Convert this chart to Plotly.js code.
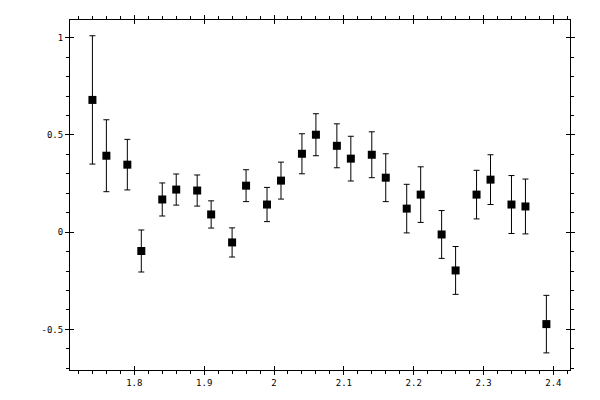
<!DOCTYPE html>
<html>
<head>
<meta charset="utf-8">
<script src="https://cdn.plot.ly/plotly-3.0.1.min.js"></script>
<style>
  body { margin: 0; background: #fff; }
  #grafico { width: 600px; height: 400px; }
</style>
</head>
<body>
<div id="grafico"></div>
<script>
// pontos medidos (x, valor, erro)
var xVals = [1.74, 1.76, 1.79, 1.81, 1.84, 1.86, 1.89, 1.91, 1.94, 1.96,
             1.99, 2.01, 2.04, 2.06, 2.09, 2.11, 2.14, 2.16, 2.19, 2.21,
             2.24, 2.26, 2.29, 2.31, 2.34, 2.36, 2.39];
var yVals = [0.68, 0.393, 0.347, -0.097, 0.168, 0.219, 0.214, 0.091, -0.053, 0.239,
             0.142, 0.265, 0.403, 0.501, 0.444, 0.378, 0.398, 0.280, 0.121, 0.193,
             -0.012, -0.197, 0.193, 0.270, 0.142, 0.132, -0.473];
var erros = [0.33, 0.185, 0.13, 0.108, 0.085, 0.08, 0.08, 0.07, 0.075, 0.082,
             0.088, 0.095, 0.103, 0.108, 0.113, 0.115, 0.118, 0.123, 0.125, 0.143,
             0.123, 0.123, 0.125, 0.128, 0.149, 0.141, 0.148];

var xTickVals = [1.8, 1.9, 2, 2.1, 2.2, 2.3, 2.4];
var xTickText = ['1.8', '1.9', '2', '2.1', '2.2', '2.3', '2.4'];
var yTickVals = [-0.5, 0, 0.5, 1];
var yTickText = ['-0.5', '0', '0.5', '1'];

var xRange = [1.7079, 2.4238];
var yRange = [-0.709, 1.091];
var fonte = {family: 'DejaVu Sans Mono', size: 9, color: '#000'};

var data = [{
  type: 'scatter',
  mode: 'markers',
  x: xVals,
  y: yVals,
  marker: {symbol: 'square', size: 8, color: '#000'},
  error_y: {type: 'data', array: erros, visible: true, color: '#000', thickness: 1, width: 3},
  hoverinfo: 'x+y'
}];

function eixo(vals, txt, faixa, menor, labels) {
  return {
    range: faixa, tickmode: 'array', tickvals: vals, ticktext: txt,
    showticklabels: labels, ticks: 'outside', ticklen: 4, tickwidth: 1, tickcolor: '#000',
    minor: {dtick: menor, ticks: 'outside', ticklen: 3, tickwidth: 1, tickcolor: '#000', showgrid: false},
    showline: true, linecolor: '#000', linewidth: 1, mirror: 'ticks',
    showgrid: false, zeroline: false, tickfont: fonte, fixedrange: true
  };
}

var layout = {
  width: 600, height: 400,
  margin: {l: 69.5, r: 30, t: 19.5, b: 30},
  paper_bgcolor: '#fff', plot_bgcolor: '#fff',
  showlegend: false,
  xaxis: eixo(xTickVals, xTickText, xRange, 0.02, true),
  yaxis: eixo(yTickVals, yTickText, yRange, 0.1, true)
};
// eixos sobrepostos só pra fazer os ticks maiores cruzarem a linha
layout.xaxis2 = {overlaying: 'x', range: xRange, tickmode: 'array', tickvals: xTickVals,
  ticks: 'inside', ticklen: 4, tickcolor: '#000', showticklabels: false, mirror: 'ticks',
  showline: false, showgrid: false, zeroline: false, anchor: 'y', fixedrange: true};
layout.yaxis2 = {overlaying: 'y', range: yRange, tickmode: 'array', tickvals: yTickVals,
  ticks: 'inside', ticklen: 4, tickcolor: '#000', showticklabels: false, mirror: 'ticks',
  showline: false, showgrid: false, zeroline: false, anchor: 'x', fixedrange: true};

data.push({type: 'scatter', x: [], y: [], xaxis: 'x2', yaxis: 'y2', hoverinfo: 'skip'});

Plotly.newPlot('grafico', data, layout, {displayModeBar: false});
</script>
</body>
</html>
